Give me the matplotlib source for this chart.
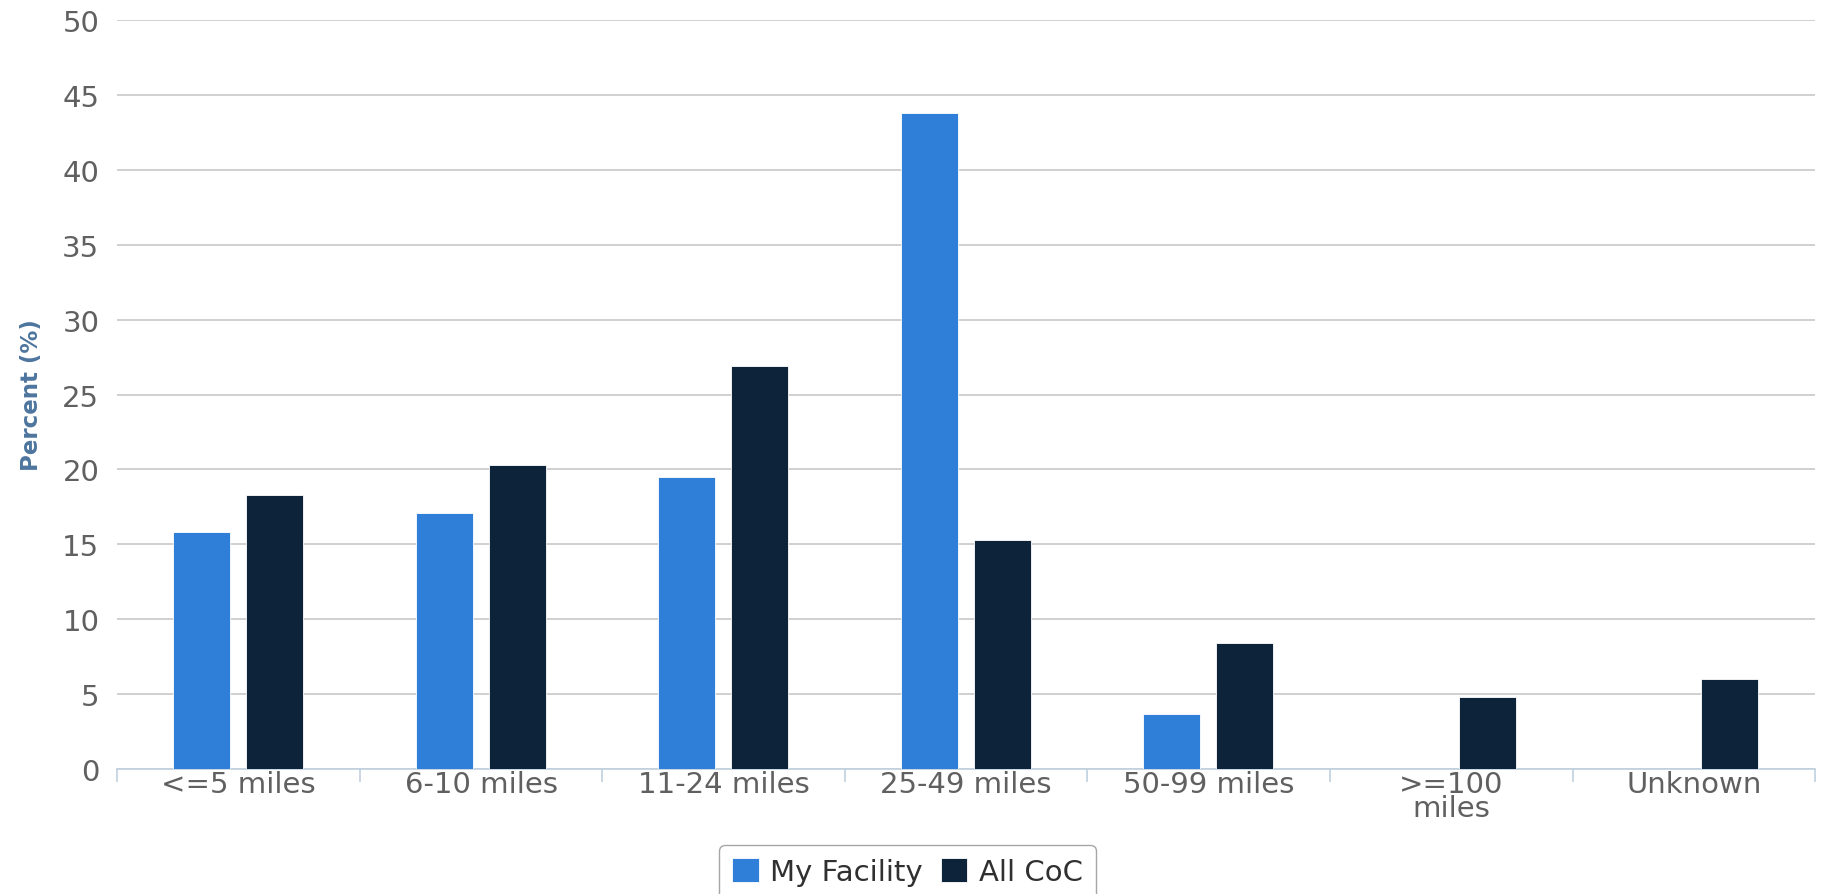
import matplotlib
matplotlib.use("Agg")
from matplotlib import pyplot as plt
import numpy as np

categories = ["<=5 miles", "6-10 miles", "11-24 miles", "25-49 miles",
              "50-99 miles", ">=100\nmiles", "Unknown"]
my_facility = [15.8, 17.1, 19.5, 43.8, 3.7, 0, 0]
all_coc = [18.3, 20.3, 26.9, 15.3, 8.4, 4.8, 6.0]

blue = "#2F7ED8"
navy = "#0D233A"
text_col = "#606060"

fig = plt.figure(figsize=(18.26, 8.95), dpi=100)
ax = fig.add_axes([0.0643, 0.1397, 0.9297, 0.8368])

x = np.arange(len(categories))
w = 0.235
ax.bar(x - 0.152, my_facility, w, color=blue, edgecolor="white", linewidth=0.6,
       label="My Facility", zorder=3)
ax.bar(x + 0.149, all_coc, w, color=navy, edgecolor="white", linewidth=0.6,
       label="All CoC", zorder=3)

ax.set_xlim(-0.5, len(categories) - 0.5)
ax.set_ylim(0, 50)
ax.set_yticks(np.arange(0, 51, 5))
ax.yaxis.grid(True, color="#C8C8C8", linewidth=1.2, zorder=0)
ax.tick_params(axis="y", length=0, pad=13, labelsize=21, labelcolor=text_col)

ax.set_xticks(x)
ax.set_xticklabels(categories, fontsize=21, color=text_col, linespacing=0.8)
ax.tick_params(axis="x", which="major", length=0, pad=1)
ax.set_xticks(np.arange(-0.5, len(categories)), minor=True)
ax.tick_params(axis="x", which="minor", length=9, color="#C0D0E0", width=1.2)

for s in ["top", "right", "left"]:
    ax.spines[s].set_visible(False)
ax.spines["bottom"].set_color("#C0D0E0")
ax.spines["bottom"].set_linewidth(1.2)

ax.set_ylabel("Percent (%)", fontsize=16.5, fontweight="bold", color="#4D759E",
              labelpad=14)

leg = fig.legend(loc="upper center", bbox_to_anchor=(0.497, 0.071), ncol=2,
                 fontsize=21, frameon=True, fancybox=True, edgecolor="#909090",
                 handlelength=0.9, handleheight=0.9, handletextpad=0.4,
                 columnspacing=0.6, borderpad=0.45, labelcolor="#303030")
leg.get_frame().set_linewidth(1.0)

fig.savefig("out.png", dpi=100)
